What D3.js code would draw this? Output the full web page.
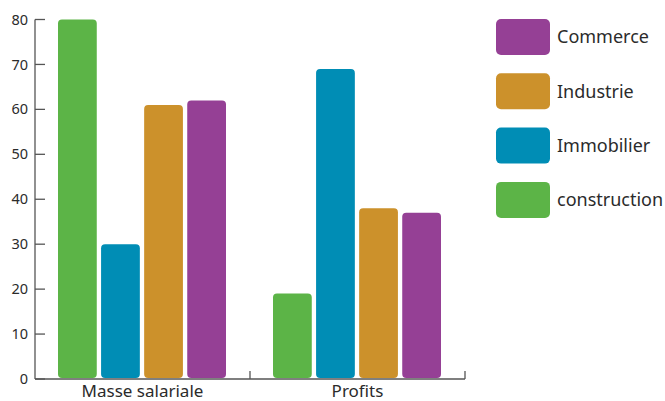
<!DOCTYPE html>
<html><head><meta charset="utf-8">
<script src="https://cdn.jsdelivr.net/npm/d3@7"></script>
<style>body{margin:0;background:#fff}svg{display:block}text{font-family:"Noto Sans",sans-serif;fill:#2b2b2b}</style>
</head><body>
<svg id="c" width="665" height="401"></svg>
<script>
const categories = ["Masse salariale", "Profits"];
const seriesNames = ["construction", "Immobilier", "Industrie", "Commerce"];
const construction = [80, 19];
const immobilier = [30, 69];
const industrie = [61, 38];
const commerce = [62, 37];
const yTicks = [0, 10, 20, 30, 40, 50, 60, 70, 80];
const legendOrder = ["Commerce", "Industrie", "Immobilier", "construction"];
const colors = {construction: "#5cb447", Immobilier: "#008db5", Industrie: "#cc912b", Commerce: "#954095"};

const values = {construction, Immobilier: immobilier, Industrie: industrie, Commerce: commerce};
const svg = d3.select("#c");
const x0 = d3.scaleBand().domain(categories).range([35, 465]);
const x1 = d3.scaleBand().domain(seriesNames).range([23, 191]).paddingInner(0.1).paddingOuter(0);
const y = d3.scaleLinear().domain([0, 80]).range([379, 19.5]);

// bars
categories.forEach((cat, i) => {
  seriesNames.forEach(s => {
    const v = values[s][i];
    svg.append("rect")
      .attr("x", x0(cat) + x1(s)).attr("y", y(v))
      .attr("width", x1.bandwidth()).attr("height", y(0) - y(v) - 1)
      .attr("rx", 4).attr("ry", 4)
      .attr("fill", colors[s]);
  });
});

// y axis
const ya = svg.append("g");
ya.append("line").attr("x1", 35).attr("x2", 35).attr("y1", y(80)).attr("y2", y(0)).attr("stroke", "#555").attr("stroke-width", 1.3);
ya.selectAll("line.t").data(yTicks).enter().append("line").attr("class", "t")
  .attr("x1", 35).attr("x2", 45).attr("y1", d => y(d)).attr("y2", d => y(d)).attr("stroke", "#555").attr("stroke-width", 1.3);
ya.selectAll("text").data(yTicks).enter().append("text")
  .attr("x", 28).attr("y", d => y(d)).attr("dy", "0.35em").attr("text-anchor", "end")
  .attr("font-size", 14.5).text(d => d);

// x axis
const xa = svg.append("g");
xa.append("line").attr("x1", 35).attr("x2", 465).attr("y1", 379).attr("y2", 379).attr("stroke", "#555").attr("stroke-width", 1.3);
const bounds = [x0(categories[0]) + x0.bandwidth(), x0(categories[1]) + x0.bandwidth()];
xa.selectAll("line.t").data(bounds).enter().append("line").attr("class", "t")
  .attr("x1", d => d).attr("x2", d => d).attr("y1", 379).attr("y2", 371).attr("stroke", "#555").attr("stroke-width", 1.3);
xa.selectAll("text").data(categories).enter().append("text")
  .attr("x", d => x0(d) + x0.bandwidth() / 2).attr("y", 397).attr("text-anchor", "middle")
  .attr("font-size", 17).text(d => d);

// legend
const lg = svg.append("g");
legendOrder.forEach((s, i) => {
  const ly = 19 + i * 54.3;
  lg.append("rect").attr("x", 496).attr("y", ly).attr("width", 54).attr("height", 36).attr("rx", 5).attr("fill", colors[s]);
  lg.append("text").attr("x", 557).attr("y", ly + 18).attr("dy", "0.35em").attr("font-size", 18).text(s);
});
</script>
</body></html>
